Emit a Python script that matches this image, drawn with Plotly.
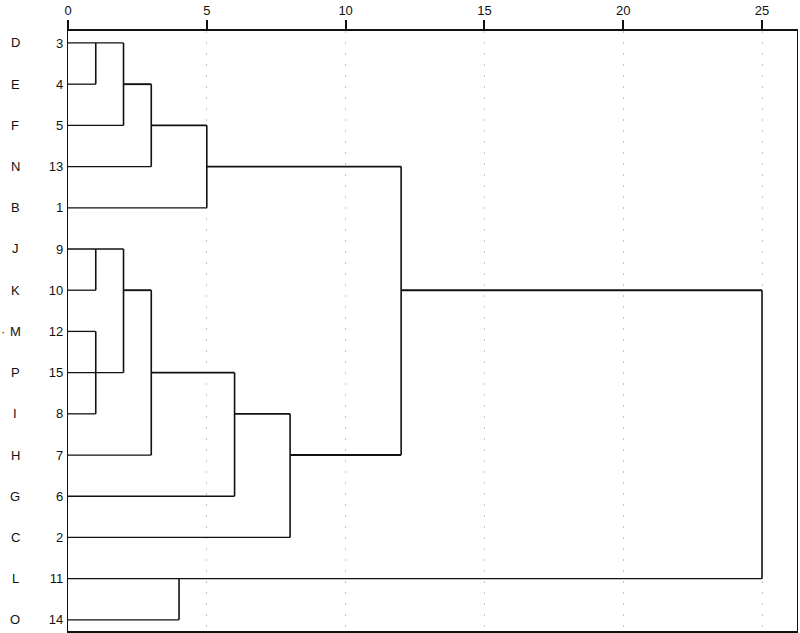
import plotly.graph_objects as go

# case labels, top to bottom
labels = ["D", "E", "F", "N", "B", "J", "K", "M", "P", "I", "H", "G", "C", "L", "O"]
case_nums = [3, 4, 5, 13, 1, 9, 10, 12, 15, 8, 7, 6, 2, 11, 14]

# horizontal links: (row, from distance, to distance)
h_links = [
    (0, 0, 2), (1, 0, 1), (1, 2, 3), (2, 0, 2), (2, 3, 5), (3, 0, 3), (3, 5, 12),
    (4, 0, 5), (5, 0, 2), (6, 0, 1), (6, 2, 3), (6, 12, 25), (7, 0, 1), (8, 0, 2),
    (8, 3, 6), (9, 0, 1), (9, 6, 8), (10, 0, 3), (10, 8, 12), (11, 0, 6),
    (12, 0, 8), (13, 0, 25), (14, 0, 4),
]
# vertical joins: (distance, row top, row bottom)
v_links = [
    (1, 0, 1), (2, 0, 2), (3, 1, 3), (5, 2, 4), (12, 3, 10), (1, 5, 6), (2, 5, 8),
    (1, 7, 9), (3, 6, 10), (6, 8, 11), (8, 9, 12), (25, 6, 13), (4, 13, 14),
]

FONT = "Liberation Sans, Arial, sans-serif"

fig = go.Figure()

# leaf lines thin, merge lines heavier
thin = [s for s in h_links if s[1] == 0]
thick = [s for s in h_links if s[1] != 0]
for group, w in [(thin, 1.3), (thick, 1.9)]:
    xs, ys = [], []
    for r, x0, x1 in group:
        xs += [x0, x1, None]
        ys += [r, r, None]
    fig.add_trace(go.Scatter(x=xs, y=ys, mode="lines", cliponaxis=False,
                             line=dict(color="#111", width=w), hoverinfo="skip"))

xs, ys = [], []
for d, r0, r1 in v_links:
    xs += [d, d, None]
    ys += [r0, r1, None]
fig.add_trace(go.Scatter(x=xs, y=ys, mode="lines", cliponaxis=False,
                         line=dict(color="#111", width=1.6), hoverinfo="skip"))

for i, lab in enumerate(labels):
    fig.add_annotation(text=lab, x=0, xref="paper", y=i, yref="y",
                       xshift=-53, xanchor="center", showarrow=False,
                       font=dict(family=FONT, size=13, color="#111"))
# stray mark left of M in the original
fig.add_annotation(text="·", x=0, xref="paper", y=labels.index("M"), yref="y",
                   xshift=-65, xanchor="center", showarrow=False,
                   font=dict(family=FONT, size=13, color="#333"))

fig.update_layout(
    width=800, height=633,
    paper_bgcolor="white", plot_bgcolor="white",
    margin=dict(l=68, r=3, t=31, b=2),
    showlegend=False,
    font=dict(family=FONT, size=13, color="#111"),
    xaxis=dict(range=[0, 26.26], side="top", tickvals=[0, 5, 10, 15, 20, 25],
               ticks="outside", ticklen=9, tickwidth=1.5, tickcolor="#111",
               tickfont=dict(size=13),
               showgrid=True, gridcolor="#c4c4c4", griddash="2px,9px", gridwidth=1,
               showline=True, linecolor="#111", linewidth=1.5, mirror=True,
               zeroline=False, fixedrange=True, automargin=False),
    yaxis=dict(range=[14.27, -0.29], tickvals=list(range(len(labels))),
               ticktext=[str(n) for n in case_nums], ticks="", ticklabelstandoff=1,
               showgrid=False, showline=True, linecolor="#111", linewidth=1.2,
               mirror=True, zeroline=False, fixedrange=True, automargin=False),
)

# drop the default 8px body margin so the figure fills the window
fig.write_html("out.html", config={"displayModeBar": False},
               post_script="document.body.style.margin='0';")
